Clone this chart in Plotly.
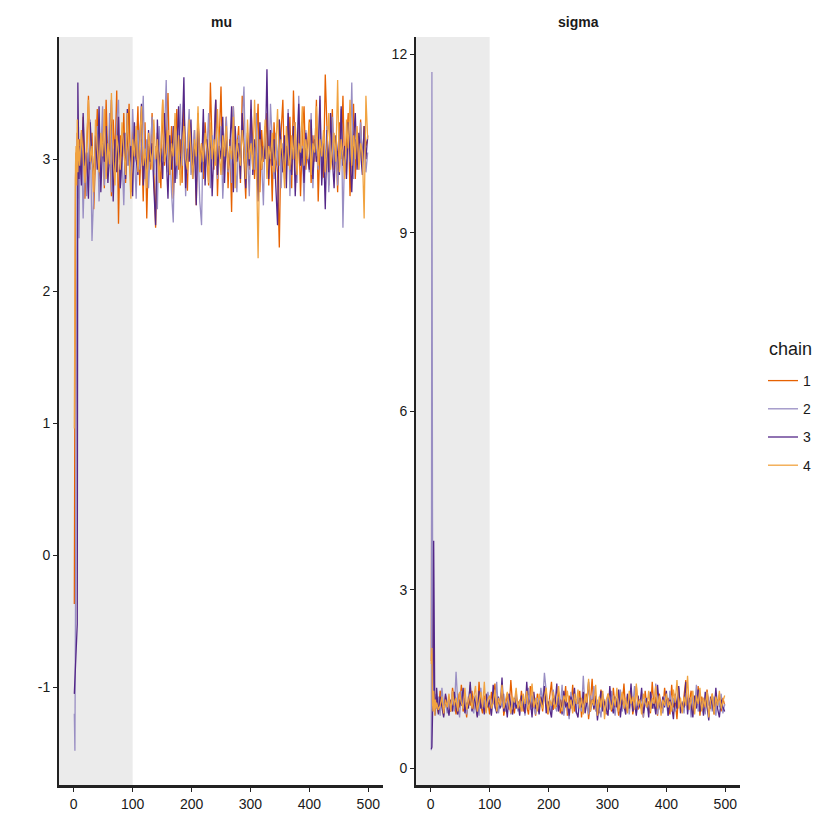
import plotly.graph_objects as go

# iterations: warm-up start in detail, then every 3rd draw
iters_start = [1, 2, 3, 4, 5, 6, 7, 8, 9]
iters_main = list(range(10, 500, 3))
iterations = iters_start + iters_main

chains = ["1", "2", "3", "4"]
chain_colors = ["#e66101", "#998ec3", "#542788", "#f1a340"]
n_warmup = 100

mu_1 = [-0.37, 1.95, 2.85, 3.05, 2.95, 3.20, 2.90, 3.10, 2.80,
        3.15, 2.88, 3.32, 2.70, 3.05, 3.48, 2.92, 3.20, 2.62, 3.10,
        3.38, 2.85, 3.02, 3.25, 2.78, 3.45, 2.95, 3.12, 2.72, 3.30,
        3.00, 3.52, 2.51, 3.18, 2.90, 3.35, 2.82, 3.08, 3.42, 2.75,
        3.22, 2.98, 3.05, 3.40, 2.80, 3.15, 2.68, 3.28, 2.55, 3.10,
        2.92, 3.35, 2.85, 2.48, 3.20, 3.02, 2.78, 3.45, 2.95, 3.12,
        3.50, 2.88, 3.25, 2.70, 3.08, 3.38, 2.92, 3.15, 2.82, 3.42,
        3.00, 2.76, 3.30, 3.05, 2.90, 3.22, 2.65, 3.35, 2.98, 3.12,
        2.85, 3.28, 3.02, 2.80, 3.58, 3.10, 2.92, 3.45, 2.72, 3.20,
        3.55, 2.88, 3.05, 3.32, 2.78, 3.15, 2.60, 3.40, 2.95, 3.08,
        3.25, 2.82, 3.48, 3.00, 2.70, 3.18, 2.92, 3.38, 3.05, 2.85,
        3.12, 3.42, 2.75, 3.22, 2.98, 3.05, 3.35, 2.80, 3.15, 2.68,
        3.28, 3.02, 2.90, 2.33, 3.20, 3.45, 2.85, 3.10, 2.95, 3.32,
        2.78, 3.52, 3.05, 2.88, 3.25, 2.72, 3.15, 3.40, 2.92, 3.08,
        3.30, 2.82, 3.18, 2.98, 3.45, 2.68, 3.12, 3.02, 2.86, 3.64,
        3.22, 2.80, 3.08, 3.38, 2.92, 3.15, 2.75, 3.28, 3.00, 3.48,
        2.90, 3.12, 3.35, 2.72, 3.05, 3.42, 2.85, 3.20, 2.98, 3.30,
        2.95, 3.25, 3.10, 3.15]
mu_2 = [-1.20, -1.48, -0.40, 1.20, 2.60, 3.15, 2.70, 3.25, 2.40,
        2.90, 3.20, 2.55, 3.05, 2.72, 2.95, 3.30, 2.38, 2.85, 3.12,
        3.25, 2.68, 3.02, 3.40, 2.80, 3.15, 2.92, 3.35, 2.75, 3.08,
        2.88, 3.28, 3.45, 2.78, 3.02, 2.65, 3.20, 2.95, 3.12, 2.82,
        3.38, 3.00, 2.70, 3.22, 2.92, 3.08, 3.48, 2.85, 3.15, 2.78,
        3.05, 3.32, 2.88, 3.10, 2.62, 3.25, 2.98, 3.02, 3.18, 3.60,
        2.90, 3.12, 2.75, 2.52, 3.30, 2.85, 3.05, 3.42, 2.95, 3.20,
        2.72, 3.15, 3.38, 2.88, 3.00, 3.22, 2.80, 3.10, 2.68, 2.50,
        3.28, 2.92, 3.05, 3.35, 2.78, 3.18, 2.98, 3.45, 2.85, 3.08,
        3.25, 2.70, 3.02, 3.32, 2.90, 3.12, 2.82, 3.40, 3.00, 2.75,
        3.18, 2.95, 3.28, 3.55, 2.88, 3.05, 2.72, 3.22, 3.10, 2.92,
        3.35, 2.80, 3.15, 2.98, 2.65, 3.25, 3.02, 2.90, 3.42, 3.08,
        2.85, 3.20, 2.95, 3.30, 2.78, 3.12, 3.05, 2.88, 3.38, 2.72,
        3.15, 3.00, 3.28, 2.82, 3.48, 2.95, 3.10, 2.68, 3.22, 3.02,
        2.90, 3.35, 2.78, 3.18, 3.05, 2.92, 3.45, 2.85, 3.12, 3.00,
        3.25, 2.75, 3.08, 3.32, 2.95, 3.15, 2.80, 3.02, 3.38, 2.48,
        3.10, 2.88, 3.22, 2.98, 3.58, 2.85, 3.15, 3.05, 2.92, 3.28,
        3.00, 3.18, 2.90, 3.05]
mu_3 = [-1.05, -0.95, -0.85, -0.75, -0.65, -0.52, 3.58, 3.20, 2.85,
        3.10, 2.80, 3.35, 2.95, 3.05, 2.70, 3.28, 3.00, 2.88, 3.18,
        2.92, 3.40, 2.75, 3.12, 2.98, 3.25, 2.82, 3.05, 3.45, 2.68,
        3.15, 2.90, 3.32, 2.78, 3.02, 3.20, 2.85, 3.38, 2.95, 3.10,
        2.72, 3.28, 3.00, 2.88, 3.15, 3.42, 2.80, 3.05, 2.92, 3.22,
        2.98, 3.12, 2.78, 2.50, 3.30, 2.95, 3.08, 2.85, 3.35, 3.02,
        2.70, 3.18, 2.92, 3.25, 2.82, 3.05, 3.40, 2.88, 3.15, 3.62,
        2.78, 3.08, 2.98, 3.30, 2.85, 3.12, 2.65, 3.28, 3.02, 2.90,
        3.38, 2.80, 3.15, 2.95, 3.22, 2.72, 3.05, 3.45, 2.88, 3.10,
        3.00, 3.32, 2.82, 3.18, 2.92, 3.08, 3.40, 2.75, 3.25, 2.98,
        3.12, 2.85, 3.35, 3.02, 2.78, 3.20, 2.95, 3.45, 2.88, 3.15,
        3.05, 2.68, 3.28, 2.92, 3.10, 3.00, 3.68, 2.85, 3.22, 2.95,
        3.15, 2.80, 2.50, 3.30, 3.05, 2.90, 3.18, 2.78, 3.35, 3.00,
        2.88, 3.25, 2.72, 3.12, 3.42, 2.95, 3.08, 2.82, 3.20, 3.02,
        2.92, 3.30, 2.85, 3.15, 2.98, 3.05, 3.48, 2.80, 3.12, 2.62,
        3.22, 2.90, 3.35, 3.00, 2.78, 3.18, 3.05, 2.88, 3.40, 2.95,
        3.10, 2.85, 3.28, 3.02, 2.75, 3.15, 3.35, 2.92, 3.20, 3.05,
        2.88, 3.25, 3.00, 3.18]
mu_4 = [0.96, 2.30, 2.95, 3.10, 2.80, 3.30, 2.90, 3.15, 3.05,
        2.95, 3.22, 3.05, 2.82, 3.15, 3.45, 2.98, 3.10, 2.75, 3.30,
        3.08, 2.90, 3.20, 3.02, 3.38, 2.85, 3.12, 2.96, 3.50, 3.00,
        2.80, 3.18, 3.05, 2.92, 3.28, 3.10, 2.88, 3.35, 3.00, 2.70,
        3.15, 3.02, 3.25, 2.90, 3.12, 3.40, 2.95, 3.08, 2.78, 3.20,
        3.05, 2.92, 3.30, 3.00, 3.15, 2.82, 3.10, 3.45, 2.98, 3.05,
        3.22, 2.88, 3.12, 3.02, 3.35, 2.95, 3.18, 2.80, 3.08, 3.25,
        3.00, 2.92, 3.30, 3.05, 2.85, 3.15, 3.02, 3.40, 2.90, 3.12,
        2.98, 3.20, 3.08, 2.82, 3.28, 3.00, 3.15, 2.95, 3.38, 3.05,
        2.88, 3.18, 3.02, 3.25, 2.92, 3.10, 3.00, 3.32, 2.78, 3.15,
        3.05, 2.95, 3.22, 3.08, 2.85, 3.30, 3.00, 3.12, 2.92, 3.45,
        3.02, 2.25, 3.15, 2.92, 3.05, 3.30, 2.85, 3.10, 3.00, 3.20,
        2.90, 3.08, 3.38, 2.95, 3.15, 3.02, 2.78, 3.25, 3.05, 2.92,
        3.18, 3.00, 3.28, 2.88, 3.12, 3.05, 3.40, 2.95, 3.15, 3.00,
        3.28, 2.88, 3.12, 3.05, 3.40, 2.95, 3.15, 3.02, 3.22, 2.90,
        3.10, 3.35, 2.92, 3.05, 3.20, 2.98, 3.60, 2.90, 3.15, 3.02,
        2.85, 3.30, 3.08, 3.45, 2.95, 3.18, 3.00, 3.25, 2.92, 3.12,
        3.05, 2.55, 3.48, 3.15]

sigma_1 = [1.80, 6.15, 0.95, 1.25, 1.05, 1.15, 0.90, 1.20, 1.00,
           1.05, 0.92, 1.30, 1.10, 0.88, 1.22, 1.00, 1.15, 0.95, 1.35,
           1.08, 0.90, 1.25, 1.02, 1.40, 0.95, 1.12, 0.85, 1.20, 1.05,
           1.30, 0.98, 1.15, 0.88, 1.45, 1.05, 0.92, 1.22, 1.00, 1.12,
           0.90, 1.28, 1.08, 1.42, 0.95, 1.18, 1.02, 1.35, 0.88, 1.10,
           1.25, 0.98, 1.48, 1.05, 0.92, 1.20, 1.10, 1.00, 1.30, 0.95,
           1.15, 1.05, 0.90, 1.38, 1.02, 1.12, 0.88, 1.25, 1.00, 1.18,
           0.95, 1.32, 1.08, 0.90, 1.20, 1.45, 0.98, 1.10, 1.02, 1.28,
           0.92, 1.15, 1.05, 1.38, 0.88, 1.22, 1.00, 1.40, 0.95, 1.12,
           1.08, 1.30, 0.85, 1.18, 1.02, 1.25, 0.82, 1.10, 1.50, 0.98,
           1.20, 1.05, 0.92, 1.32, 1.00, 1.15, 0.90, 1.25, 1.08, 0.95,
           1.35, 1.02, 1.12, 0.88, 1.22, 1.05, 1.42, 0.95, 1.18, 1.00,
           1.28, 0.90, 1.10, 1.38, 0.98, 1.15, 1.05, 0.85, 1.30, 1.02,
           1.12, 0.92, 1.45, 1.00, 1.20, 0.88, 1.25, 1.05, 0.95, 1.35,
           1.08, 1.18, 0.90, 1.40, 1.02, 1.12, 0.82, 1.28, 1.05, 0.95,
           1.22, 1.48, 0.98, 1.10, 1.30, 0.92, 1.15, 1.02, 1.38, 0.88,
           1.20, 1.05, 0.95, 1.32, 1.10, 1.00, 1.25, 0.90, 1.15, 1.08,
           1.22, 0.95, 1.18, 1.05]
sigma_2 = [0.30, 11.70, 4.30, 1.05, 1.20, 0.95, 1.10, 0.88, 1.25,
           1.00, 1.20, 0.88, 1.35, 1.05, 1.10, 0.92, 1.15, 1.02, 1.28,
           0.95, 1.62, 1.08, 0.85, 1.30, 1.00, 1.18, 0.90, 1.12, 1.40,
           1.02, 0.92, 1.22, 1.08, 0.88, 1.35, 1.00, 1.15, 0.95, 1.28,
           1.05, 0.90, 1.18, 1.00, 1.45, 0.92, 1.12, 1.02, 1.25, 0.95,
           1.08, 1.25, 0.90, 1.15, 1.02, 1.30, 0.95, 1.10, 1.00, 1.20,
           0.88, 1.12, 1.35, 0.98, 1.22, 1.05, 0.90, 1.18, 1.02, 1.35,
           1.10, 1.60, 1.25, 1.00, 1.15, 0.92, 1.32, 1.05, 0.95, 1.20,
           1.02, 1.40, 0.88, 1.12, 1.05, 0.82, 1.28, 1.00, 1.18, 0.92,
           1.25, 1.05, 0.95, 1.55, 1.00, 1.12, 0.90, 1.22, 1.08, 1.38,
           0.95, 1.15, 1.02, 0.85, 1.25, 1.10, 0.92, 1.20, 0.98, 1.30,
           1.05, 0.88, 1.18, 1.00, 1.32, 0.95, 1.12, 1.02, 1.22, 0.90,
           1.15, 1.05, 1.38, 0.92, 1.10, 1.00, 1.25, 0.85, 1.18, 1.02,
           0.95, 1.28, 1.08, 1.00, 1.42, 0.90, 1.15, 1.05, 0.92, 1.20,
           1.10, 0.88, 1.30, 1.02, 1.18, 0.95, 1.08, 1.35, 1.00, 1.12,
           0.92, 1.25, 1.05, 1.15, 0.85, 1.22, 1.02, 1.40, 0.95, 1.10,
           1.00, 1.18, 0.90, 1.28, 1.05, 1.12, 0.95, 1.20, 0.88, 1.15,
           1.02, 1.25, 0.92, 1.08]
sigma_3 = [0.32, 0.35, 0.85, 1.50, 3.82, 1.20, 0.90, 1.10, 1.02,
           1.35, 0.90, 1.20, 1.00, 0.85, 1.25, 1.05, 0.88, 1.15, 0.95,
           1.28, 1.02, 0.90, 1.15, 1.05, 1.35, 0.92, 1.10, 1.00, 1.45,
           0.95, 1.20, 1.08, 0.85, 1.30, 1.00, 1.12, 0.90, 1.25, 1.02,
           1.15, 0.88, 1.40, 1.05, 0.92, 1.20, 1.00, 1.52, 0.95, 1.10,
           0.85, 1.25, 1.05, 0.90, 1.18, 1.00, 1.12, 0.88, 1.22, 1.05,
           0.92, 1.45, 1.02, 1.15, 0.85, 1.28, 1.00, 1.10, 0.90, 1.20,
           1.05, 1.38, 0.92, 1.12, 1.00, 0.85, 1.25, 1.05, 1.42, 0.95,
           1.15, 0.90, 1.30, 1.02, 1.10, 0.88, 1.20, 1.05, 1.35, 0.95,
           0.85, 1.18, 1.02, 1.28, 0.92, 1.10, 1.45, 0.95, 1.15, 1.00,
           1.22, 0.80, 1.08, 1.30, 0.95, 1.12, 1.00, 0.88, 1.38, 1.05,
           0.92, 1.20, 1.02, 1.32, 0.85, 1.15, 1.05, 0.90, 1.25, 1.00,
           1.42, 0.95, 1.10, 0.88, 1.22, 1.02, 1.35, 0.92, 1.08, 1.18,
           0.85, 1.28, 1.00, 1.12, 0.90, 1.40, 1.05, 0.95, 1.20, 1.02,
           1.30, 0.88, 1.15, 1.05, 0.82, 1.25, 1.00, 1.38, 0.92, 1.10,
           1.02, 1.45, 0.90, 1.18, 1.05, 0.85, 1.22, 1.00, 1.32, 0.95,
           1.12, 0.88, 1.28, 1.02, 0.80, 1.20, 1.05, 0.92, 1.35, 1.00,
           0.85, 1.15, 1.02, 0.95]
sigma_4 = [1.75, 2.02, 1.10, 0.95, 1.30, 1.05, 0.88, 1.15, 1.00,
           1.10, 0.98, 1.05, 1.20, 0.92, 1.15, 1.02, 1.25, 0.95, 1.30,
           1.05, 1.18, 0.95, 1.28, 1.10, 1.00, 1.35, 0.98, 1.12, 1.25,
           1.00, 1.20, 1.38, 0.95, 1.10, 1.28, 1.02, 1.45, 0.92, 1.15,
           1.22, 1.00, 1.10, 1.32, 0.95, 1.18, 1.05, 1.40, 1.00, 1.12,
           1.28, 1.05, 0.92, 1.20, 1.10, 1.35, 1.00, 1.15, 0.95, 1.25,
           1.08, 1.30, 0.98, 1.12, 1.42, 1.02, 1.18, 0.95, 1.25, 1.10,
           1.00, 1.20, 1.35, 0.92, 1.15, 1.05, 1.28, 1.00, 1.10, 1.38,
           1.05, 0.95, 1.22, 1.12, 1.30, 1.00, 1.15, 0.92, 1.25, 1.08,
           1.32, 1.00, 1.18, 0.90, 1.25, 1.10, 1.50, 0.95, 1.15, 1.05,
           1.40, 0.88, 1.20, 1.02, 1.30, 0.82, 1.15, 1.25, 1.10, 0.98,
           1.22, 1.05, 1.35, 0.95, 1.12, 1.28, 1.00, 1.18, 0.92, 1.30,
           1.08, 1.20, 0.98, 1.42, 1.05, 1.15, 0.90, 1.25, 1.10, 1.02,
           1.30, 0.95, 1.18, 1.08, 1.38, 1.00, 1.22, 0.88, 1.15, 1.05,
           1.25, 1.02, 1.12, 0.95, 1.32, 1.10, 1.48, 1.00, 1.18, 0.92,
           1.20, 1.05, 1.55, 0.98, 1.15, 1.30, 0.90, 1.22, 1.08, 1.35,
           0.95, 1.18, 1.02, 1.28, 0.85, 1.12, 1.25, 0.90, 1.20, 1.05,
           1.30, 1.00, 1.12, 1.22]

mu_ticks = [-1, 0, 1, 2, 3]
mu_ticktext = ["-1", "0", "1", "2", "3"]
sigma_ticks = [0, 3, 6, 9, 12]
x_ticks = [0, 100, 200, 300, 400, 500]

mu_chains = [mu_1, mu_2, mu_3, mu_4]
sigma_chains = [sigma_1, sigma_2, sigma_3, sigma_4]
for s in mu_chains + sigma_chains:
    assert len(s) == len(iterations), len(s)

FONT = "Liberation Sans, Arial, sans-serif"
TXT = "#1a1a1a"
fig = go.Figure()

for i, ch in enumerate(chains):
    fig.add_trace(go.Scatter(
        x=iterations, y=mu_chains[i], mode="lines", name=ch,
        legendgroup=ch, showlegend=True,
        line=dict(color=chain_colors[i], width=1.3),
        xaxis="x", yaxis="y"))
for i, ch in enumerate(chains):
    fig.add_trace(go.Scatter(
        x=iterations, y=sigma_chains[i], mode="lines", name=ch,
        legendgroup=ch, showlegend=False,
        line=dict(color=chain_colors[i], width=1.3),
        xaxis="x2", yaxis="y2"))

# warm-up shading
for xr, yr in [("x", "y domain"), ("x2", "y2 domain")]:
    fig.add_shape(type="rect", xref=xr, yref=yr, x0=-40, x1=n_warmup,
                  y0=0, y1=1, fillcolor="#ebebeb", line_width=0,
                  layer="below")

xdomL = [59 / 840, 383 / 840]
xdomR = [416 / 840, 740 / 840]
ydom = [55 / 840, 803 / 840]

xcommon = dict(range=[-25, 525], tickvals=x_ticks,
               showgrid=False, zeroline=False, showline=True,
               linecolor="#222222", linewidth=3, ticks="outside",
               ticklen=4, tickwidth=1.2, tickcolor="#222222",
               tickfont=dict(family=FONT, size=14, color=TXT))
ycommon = dict(showgrid=False, zeroline=False, showline=True,
               linecolor="#222222", linewidth=2, ticks="outside",
               ticklen=4, tickwidth=1.2, tickcolor="#222222",
               tickfont=dict(family=FONT, size=14, color=TXT))

fig.update_layout(
    width=840, height=840,
    margin=dict(l=0, r=0, t=0, b=0),
    paper_bgcolor="white", plot_bgcolor="white",
    xaxis=dict(domain=xdomL, anchor="y", **xcommon),
    yaxis=dict(domain=ydom, anchor="x", range=[-1.74, 3.925],
               tickvals=mu_ticks, ticktext=mu_ticktext, **ycommon),
    xaxis2=dict(domain=xdomR, anchor="y2", **xcommon),
    yaxis2=dict(domain=ydom, anchor="x2", range=[-0.285, 12.29],
                tickvals=sigma_ticks, **ycommon),
    legend=dict(x=763 / 840, y=1 - 365 / 840, xanchor="left", yanchor="top",
                font=dict(family=FONT, size=14, color=TXT),
                tracegroupgap=7, itemwidth=30, bgcolor="rgba(0,0,0,0)"),
    annotations=[
        dict(text="<b>mu</b>", x=(xdomL[0] + xdomL[1]) / 2, y=1 - 22 / 840,
             xref="paper", yref="paper", xanchor="center", yanchor="middle",
             showarrow=False, font=dict(family=FONT, size=14, color=TXT)),
        dict(text="<b>sigma</b>", x=(xdomR[0] + xdomR[1]) / 2, y=1 - 22 / 840,
             xref="paper", yref="paper", xanchor="center", yanchor="middle",
             showarrow=False, font=dict(family=FONT, size=14, color=TXT)),
        dict(text="chain", x=767 / 840, y=1 - 349 / 840,
             xref="paper", yref="paper", xanchor="left", yanchor="middle",
             showarrow=False, font=dict(family=FONT, size=18, color=TXT)),
    ],
)

fig.write_html("out.html")
